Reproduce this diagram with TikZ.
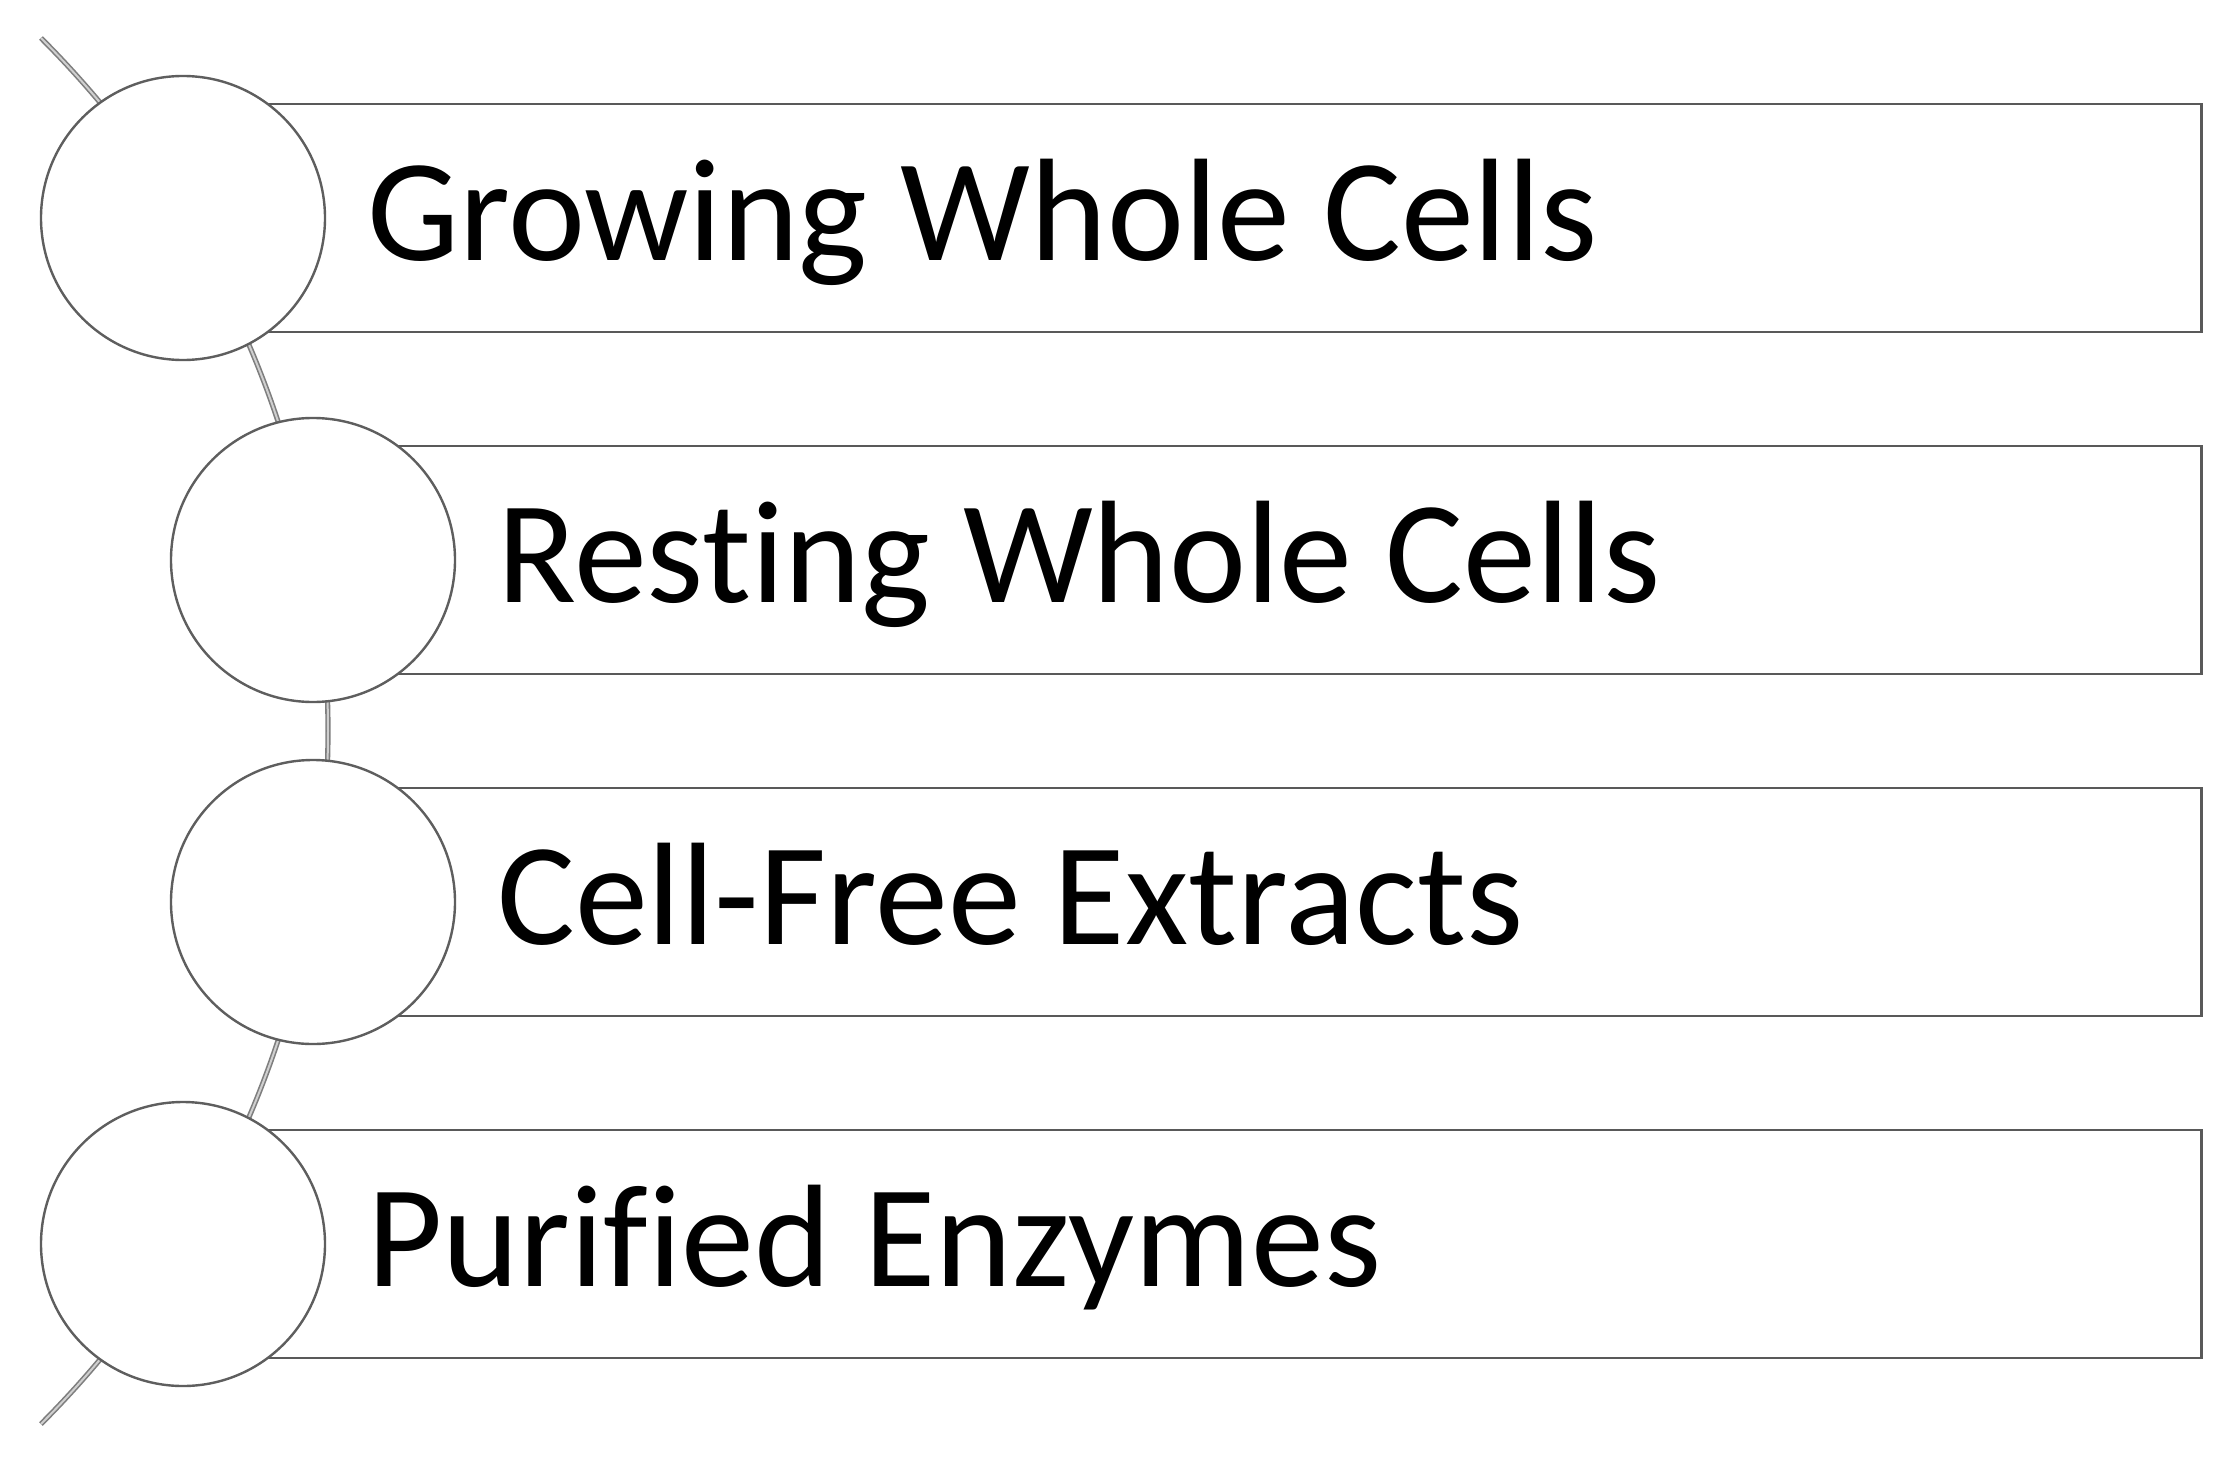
\documentclass[tikz,border=0pt]{standalone}
\usepackage{fontspec}
\setmainfont{Carlito}[Ligatures={NoCommon,NoRare}]
\definecolor{boxgray}{HTML}{595959}
\definecolor{circgray}{HTML}{5E5E5E}
\definecolor{arcgray}{HTML}{7E7E7E}
\definecolor{arclight}{HTML}{CFCFCF}
\begin{document}
\begin{tikzpicture}[x=0.5pt,y=-0.5pt,
  boxst/.style={draw=boxgray, line width=1.4pt, fill=white, rectangle, anchor=west,
                minimum height=114pt, inner sep=0pt},
  circst/.style={draw=circgray, line width=1.2pt, fill=white, circle,
                 minimum size=142pt, inner sep=0pt},
  labst/.style={anchor=base west, inner sep=0pt, font=\fontsize{73}{80}\selectfont},
  arcst/.style={draw=arcgray, line width=0.8pt, double=arclight, double distance=1pt}]
\useasboundingbox[fill=white] (0,0) rectangle (2230,1466);
% spine arc behind the circles
\coordinate (ac) at (-652,731);
\draw[arcst] (ac) ++(-45:980) coordinate (atop)
  arc[start angle=-45, end angle=45, radius=980] coordinate (abot);
% boxes
\node[boxst, minimum width=1008.5pt] (b1) at (183,218) {};
\node[boxst, minimum width=943.5pt]  (b2) at (313,560) {};
\node[boxst, minimum width=943.5pt]  (b3) at (313,902) {};
\node[boxst, minimum width=1008.5pt] (b4) at (183,1244) {};
% circles
\node[circst] (c1) at (183,218) {};
\node[circst] (c2) at (313,560) {};
\node[circst] (c3) at (313,902) {};
\node[circst] (c4) at (183,1244) {};
% labels
\node[labst] (t1) at (367,260)  {Growing Whole Cells};
\node[labst] (t2) at (497,602)  {Resting Whole Cells};
\node[labst] (t3) at (497,944)  {Cell-Free Extracts};
\node[labst] (t4) at (367,1286) {Purified Enzymes};
\end{tikzpicture}
\end{document}
